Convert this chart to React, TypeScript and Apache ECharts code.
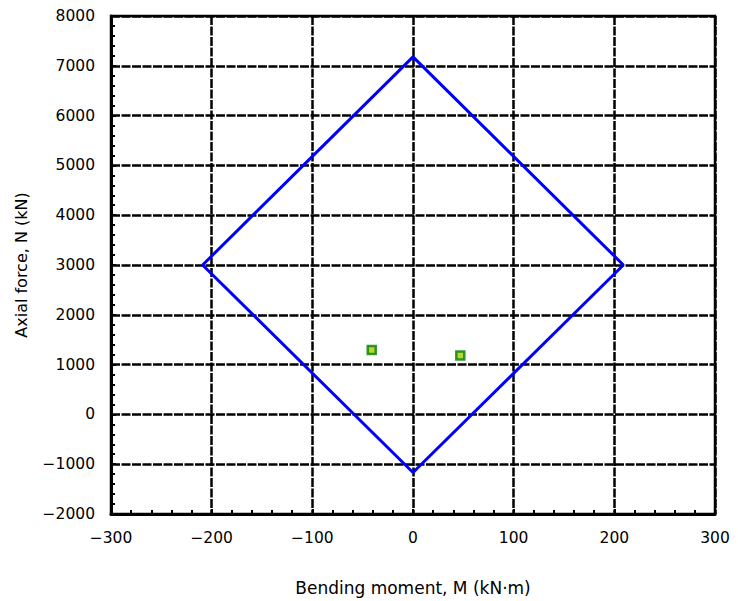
import React, { useEffect, useRef } from "react";
import * as echarts from "echarts";

// Interaction diagram vertices (M, N)
const envelopeM = [0, 209, 0, -209, 0];
const envelopeN = [-1167, 3000, 7180, 3000, -1167];
// Test points (M, N)
const pointM = [-41, 47];
const pointN = [1295, 1185];

const xMin = -300, xMax = 300, xInterval = 100;
const yMin = -2000, yMax = 8000, yInterval = 1000;

const FONT = "'DejaVu Sans', 'Liberation Sans', sans-serif";
const fmt = (v: number) => String(v).replace("-", "\u2212");

export default function App() {
  const ref = useRef<HTMLDivElement>(null);
  useEffect(() => {
    if (!ref.current) return;
    const chart = echarts.init(ref.current, undefined, { renderer: "svg" });
    const gridLine = { color: "#000", width: 2.5, type: [9, 1.5] as number[] };
    chart.setOption({
      animation: false,
      backgroundColor: "#fff",
      textStyle: { fontFamily: FONT },
      grid: {
        left: 111, right: 23, top: 16, bottom: 87,
        show: true, borderColor: "#000", borderWidth: 2.5,
      },
      xAxis: {
        type: "value", min: xMin, max: xMax, interval: xInterval,
        name: "Bending moment, M (kN\u00b7m)", nameLocation: "middle", nameGap: 65,
        nameTextStyle: { fontSize: 17, color: "#000", fontFamily: FONT },
        axisLine: { show: true, onZero: false, lineStyle: { color: "#000", width: 3 } },
        axisTick: { show: true, inside: true, length: 5, lineStyle: { color: "#000", width: 2 } },
        minorTick: { show: true, splitNumber: 5, length: 4, lineStyle: { color: "#000", width: 2 } },
        axisLabel: { fontSize: 15.5, color: "#000", margin: 16, formatter: fmt, fontFamily: FONT },
        splitLine: { show: true, lineStyle: gridLine },
      },
      yAxis: {
        type: "value", min: yMin, max: yMax, interval: yInterval,
        name: "Axial force, N (kN)", nameLocation: "middle", nameGap: 82, nameRotate: 90,
        nameTextStyle: { fontSize: 16, color: "#000", fontFamily: FONT },
        axisLine: { show: true, onZero: false, lineStyle: { color: "#000", width: 3 } },
        axisTick: { show: true, inside: true, length: 5, lineStyle: { color: "#000", width: 2 } },
        minorTick: { show: true, splitNumber: 5, length: 4, lineStyle: { color: "#000", width: 2 } },
        axisLabel: { fontSize: 15.5, color: "#000", margin: 16, formatter: fmt, fontFamily: FONT },
        splitLine: { show: true, lineStyle: gridLine },
      },
      series: [
        {
          type: "line",
          data: envelopeM.map((m, i) => [m, envelopeN[i]]),
          showSymbol: false,
          symbol: "none",
          lineStyle: { color: "#0000ff", width: 3 },
          z: 3,
        },
        {
          type: "scatter",
          data: pointM.map((m, i) => [m, pointN[i]]),
          symbol: "rect",
          symbolSize: 8,
          itemStyle: { color: "#a6cc00", borderColor: "#008000", borderWidth: 2.5 },
          z: 4,
        },
      ],
    });
    return () => chart.dispose();
  }, []);
  return <div ref={ref} style={{ width: 738, height: 601, position: "absolute", left: 0, top: 0 }} />;
}
